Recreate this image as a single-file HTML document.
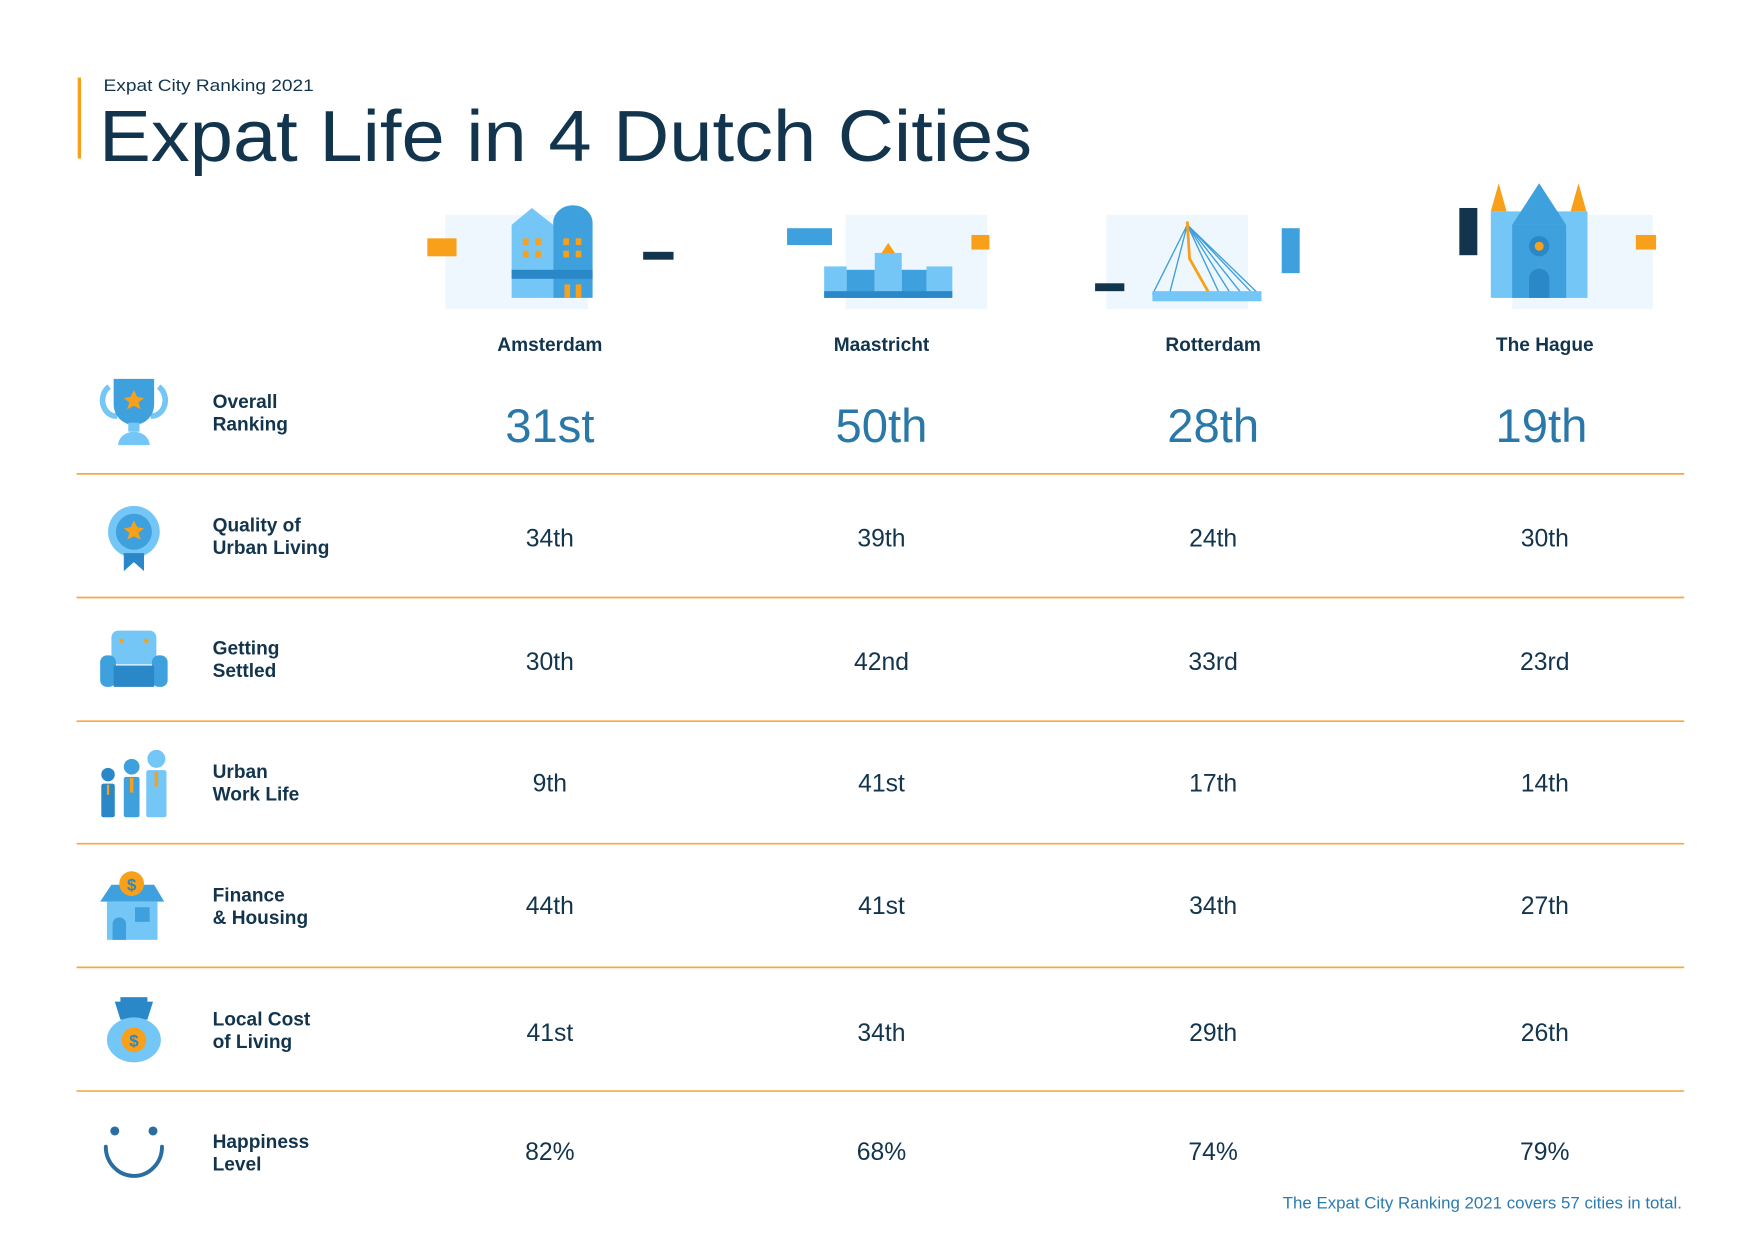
<!DOCTYPE html>
<html><head><meta charset="utf-8"><style>
html,body{margin:0;padding:0;background:#fff;}
svg{display:block;}
text{font-family:"Liberation Sans",sans-serif;}
</style></head><body>
<svg width="1754" height="1240" viewBox="0 0 1560 1103" xmlns="http://www.w3.org/2000/svg">
<rect width="1560" height="1103" fill="#fff"/>
<!-- header -->
<rect x="69" y="69" width="3" height="72" fill="#f9a01b"/>
<text x="92" y="81" font-size="15" fill="#12344d" textLength="187" lengthAdjust="spacingAndGlyphs">Expat City Ranking 2021</text>
<text x="88" y="143" font-size="64" fill="#12344d" textLength="830" lengthAdjust="spacingAndGlyphs">Expat Life in 4 Dutch Cities</text>

<!-- Amsterdam illustration -->
<rect x="396" y="191" width="127" height="84" fill="#eef7fd"/>
<rect x="380" y="212" width="26" height="16" fill="#f9a01b"/>
<rect x="572" y="224" width="27" height="7" fill="#12344d"/>
<polygon points="455,200 473,185 492,200 492,265 455,265" fill="#74c6f7"/>
<path d="M492,265 V198 A17,15 0 0 1 527,198 V265 Z" fill="#3ea0dc"/>
<rect x="455" y="240" width="72" height="8" fill="#2a88c8"/>
<rect x="465" y="212" width="5" height="6" fill="#f9a01b"/><rect x="476" y="212" width="5" height="6" fill="#f9a01b"/>
<rect x="465" y="223" width="5" height="6" fill="#f9a01b"/><rect x="476" y="223" width="5" height="6" fill="#f9a01b"/>
<rect x="501" y="212" width="5" height="6" fill="#f9a01b"/><rect x="512" y="212" width="5" height="6" fill="#f9a01b"/>
<rect x="501" y="223" width="5" height="6" fill="#f9a01b"/><rect x="512" y="223" width="5" height="6" fill="#f9a01b"/>
<rect x="502" y="253" width="5" height="12" fill="#f9a01b"/><rect x="512" y="253" width="5" height="12" fill="#f9a01b"/>

<!-- Maastricht -->
<rect x="752" y="191" width="126" height="84" fill="#eef7fd"/>
<rect x="700" y="203" width="40" height="15" fill="#3ea0dc"/>
<rect x="864" y="209" width="16" height="13" fill="#f9a01b"/>
<rect x="733" y="237" width="20" height="28" fill="#74c6f7"/>
<rect x="753" y="240" width="25" height="25" fill="#3ea0dc"/>
<rect x="778" y="225" width="24" height="40" fill="#74c6f7"/>
<polygon points="784,225 790,216 796,225" fill="#f9a01b"/>
<rect x="802" y="240" width="22" height="25" fill="#3ea0dc"/>
<rect x="824" y="237" width="23" height="28" fill="#74c6f7"/>
<rect x="733" y="259" width="114" height="6" fill="#2a88c8"/>

<!-- Rotterdam -->
<rect x="984" y="191" width="126" height="84" fill="#eef7fd"/>
<rect x="974" y="252" width="26" height="7" fill="#12344d"/>
<rect x="1140" y="203" width="16" height="40" fill="#3ea0dc"/>
<g stroke="#3ea0dc" stroke-width="1.2" fill="none">
<line x1="1056" y1="200" x2="1025" y2="262"/><line x1="1056" y1="200" x2="1040" y2="262"/>
<line x1="1056" y1="200" x2="1085" y2="262"/><line x1="1056" y1="200" x2="1095" y2="262"/>
<line x1="1056" y1="200" x2="1105" y2="262"/><line x1="1056" y1="200" x2="1115" y2="262"/>
<line x1="1056" y1="200" x2="1120" y2="262"/></g>
<path d="M1056,197 L1058,230 L1076,262" stroke="#f9a01b" stroke-width="2.5" fill="none"/>
<rect x="1025" y="259" width="97" height="9" fill="#74c6f7"/>

<!-- The Hague -->
<rect x="1345" y="191" width="125" height="84" fill="#eef7fd"/>
<rect x="1298" y="185" width="16" height="42" fill="#12344d"/>
<rect x="1455" y="209" width="18" height="13" fill="#f9a01b"/>
<polygon points="1326,188 1333,163 1340,188" fill="#f9a01b"/>
<polygon points="1397,188 1404,163 1411,188" fill="#f9a01b"/>
<rect x="1326" y="188" width="86" height="77" fill="#74c6f7"/>
<polygon points="1345,200 1369,163 1393,200" fill="#3ea0dc"/>
<rect x="1345" y="200" width="48" height="65" fill="#3ea0dc"/>
<circle cx="1369" cy="219" r="9" fill="#2a88c8"/><circle cx="1369" cy="219" r="4" fill="#f9a01b"/>
<path d="M1360,265 V248 A9,9 0 0 1 1378,248 V265 Z" fill="#2a88c8"/>

<!-- city names -->
<g font-size="17" font-weight="bold" fill="#12344d" text-anchor="middle">
<text x="489" y="312">Amsterdam</text><text x="784" y="312">Maastricht</text>
<text x="1079" y="312">Rotterdam</text><text x="1374" y="312">The Hague</text></g>

<!-- lines -->
<g stroke="#f7a940" stroke-width="1.5">
<line x1="68" y1="421.5" x2="1498" y2="421.5"/><line x1="68" y1="531.5" x2="1498" y2="531.5"/>
<line x1="68" y1="641.5" x2="1498" y2="641.5"/><line x1="68" y1="750.5" x2="1498" y2="750.5"/>
<line x1="68" y1="860.5" x2="1498" y2="860.5"/><line x1="68" y1="970.5" x2="1498" y2="970.5"/></g>

<!-- labels -->
<g font-size="17" font-weight="bold" fill="#12344d">
<text x="189" y="363">Overall</text><text x="189" y="383">Ranking</text>
<text x="189" y="473">Quality of</text><text x="189" y="493">Urban Living</text>
<text x="189" y="582">Getting</text><text x="189" y="602">Settled</text>
<text x="189" y="692">Urban</text><text x="189" y="712">Work Life</text>
<text x="189" y="802">Finance</text><text x="189" y="822">&amp; Housing</text>
<text x="189" y="912">Local Cost</text><text x="189" y="932">of Living</text>
<text x="189" y="1021">Happiness</text><text x="189" y="1041">Level</text></g>

<!-- values -->
<g font-size="42" fill="#2a78a8" text-anchor="middle">
<text x="489" y="393">31st</text><text x="784" y="393">50th</text><text x="1079" y="393">28th</text><text x="1371" y="393">19th</text></g>
<g font-size="22" fill="#12344d" text-anchor="middle">
<text x="489" y="486">34th</text><text x="784" y="486">39th</text><text x="1079" y="486">24th</text><text x="1374" y="486">30th</text>
<text x="489" y="596">30th</text><text x="784" y="596">42nd</text><text x="1079" y="596">33rd</text><text x="1374" y="596">23rd</text>
<text x="489" y="704">9th</text><text x="784" y="704">41st</text><text x="1079" y="704">17th</text><text x="1374" y="704">14th</text>
<text x="489" y="813">44th</text><text x="784" y="813">41st</text><text x="1079" y="813">34th</text><text x="1374" y="813">27th</text>
<text x="489" y="926">41st</text><text x="784" y="926">34th</text><text x="1079" y="926">29th</text><text x="1374" y="926">26th</text>
<text x="489" y="1032">82%</text><text x="784" y="1032">68%</text><text x="1079" y="1032">74%</text><text x="1374" y="1032">79%</text></g>

<text x="1496" y="1075" font-size="15" fill="#2b7bb0" text-anchor="end">The Expat City Ranking 2021 covers 57 cities in total.</text>

<!-- icons -->
<!-- trophy -->
<path d="M97,344 A12,14 0 0 0 104,370 M141,344 A12,14 0 0 1 134,370" stroke="#74c6f7" stroke-width="5" fill="none"/>
<path d="M101,337 H137 V360 A18,18 0 0 1 101,360 Z" fill="#3ea0dc"/>
<rect x="114" y="376" width="10" height="8" fill="#74c6f7"/>
<path d="M105,396 A14,12 0 0 1 133,396 Z" fill="#74c6f7"/>
<polygon points="119,347 122,353 128,354 123,358 125,364 119,361 113,364 115,358 110,354 116,353" fill="#f9a01b"/>
<!-- rosette -->
<circle cx="119" cy="473" r="23" fill="#74c6f7"/>
<circle cx="119" cy="473" r="16" fill="#3ea0dc"/>
<polygon points="110,492 110,508 119,500 128,508 128,492" fill="#2a88c8"/>
<polygon points="119,463 122,469 128,470 123,474 125,480 119,477 113,480 115,474 110,470 116,469" fill="#f9a01b"/>
<!-- armchair -->
<rect x="99" y="561" width="40" height="30" rx="6" fill="#74c6f7"/>
<rect x="89" y="583" width="14" height="28" rx="6" fill="#3ea0dc"/>
<rect x="135" y="583" width="14" height="28" rx="6" fill="#3ea0dc"/>
<rect x="101" y="592" width="36" height="19" fill="#2a88c8"/>
<circle cx="108" cy="570" r="2" fill="#f9a01b"/><circle cx="130" cy="570" r="2" fill="#f9a01b"/>
<!-- people -->
<circle cx="96" cy="689" r="6" fill="#2a88c8"/><rect x="90" y="697" width="12" height="30" rx="2" fill="#2a88c8"/>
<circle cx="117" cy="682" r="7" fill="#3ea0dc"/><rect x="110" y="691" width="14" height="36" rx="2" fill="#3ea0dc"/>
<circle cx="139" cy="675" r="8" fill="#74c6f7"/><rect x="130" y="685" width="18" height="42" rx="2" fill="#74c6f7"/>
<line x1="117" y1="692" x2="117" y2="705" stroke="#f9a01b" stroke-width="3"/>
<line x1="139" y1="686" x2="139" y2="700" stroke="#f9a01b" stroke-width="3"/>
<line x1="96" y1="698" x2="96" y2="707" stroke="#f9a01b" stroke-width="2"/>
<!-- house -->
<polygon points="89,802 99,787 137,787 146,802" fill="#3ea0dc"/>
<rect x="95" y="802" width="45" height="34" fill="#74c6f7"/>
<path d="M100,836 V822 A6,6 0 0 1 112,822 V836 Z" fill="#3ea0dc"/>
<rect x="120" y="807" width="13" height="13" fill="#3ea0dc"/>
<circle cx="117" cy="786" r="11" fill="#f9a01b"/>
<text x="117" y="792" font-size="15" font-weight="bold" fill="#2a88c8" text-anchor="middle">$</text>
<!-- money bag -->
<polygon points="102,891 136,891 131,907 107,907" fill="#2a88c8"/>
<rect x="107" y="887" width="24" height="5" fill="#2a88c8"/>
<ellipse cx="119" cy="925" rx="24" ry="20" fill="#74c6f7"/>
<circle cx="119" cy="925" r="11" fill="#f9a01b"/>
<text x="119" y="931" font-size="15" font-weight="bold" fill="#2a88c8" text-anchor="middle">$</text>
<!-- smile -->
<circle cx="102" cy="1006" r="4" fill="#2a6da0"/><circle cx="136" cy="1006" r="4" fill="#2a6da0"/>
<path d="M94,1020 A25,26 0 0 0 144,1020" stroke="#2a6da0" stroke-width="3.5" fill="none" stroke-linecap="round"/>
</svg>
</body></html>
